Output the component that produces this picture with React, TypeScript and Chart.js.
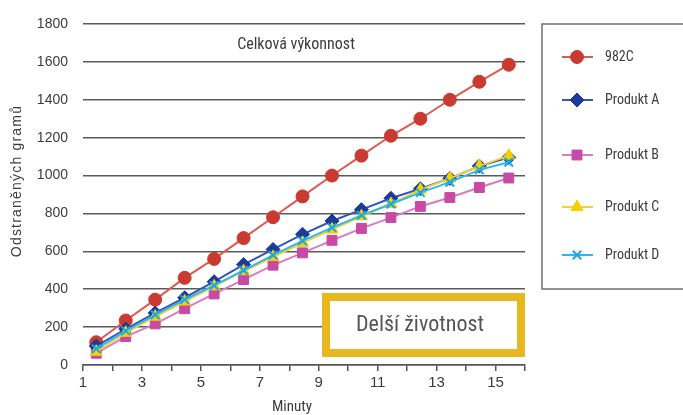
import React, { useEffect, useRef } from "react";
import { Chart, registerables } from "chart.js";
import { drawPoint } from "chart.js/helpers";
Chart.register(...registerables);

const minutes = [1.45, 2.45, 3.45, 4.45, 5.45, 6.45, 7.45, 8.45, 9.45, 10.45, 11.45, 12.45, 13.45, 14.45, 15.45];
const s982C = [120, 235, 345, 460, 560, 670, 780, 890, 1000, 1105, 1210, 1300, 1400, 1495, 1585];
const produktA = [100, 190, 275, 355, 440, 530, 610, 690, 760, 820, 880, 930, 985, 1050, 1095];
const produktB = [62, 150, 217, 297, 375, 451, 527, 592, 658, 721, 778, 837, 884, 937, 987];
const produktC = [70, 170, 255, 335, 415, 495, 570, 645, 715, 785, 850, 925, 985, 1050, 1105];
const produktD = [85, 180, 265, 345, 420, 500, 580, 655, 725, 790, 850, 910, 965, 1030, 1070];

const seriesNames = ["982C", "Produkt A", "Produkt B", "Produkt C", "Produkt D"];
const yTitle = "Odstraněných gramů";
const xTitle = "Minuty";
const chartTitle = "Celková výkonnost";
const boxLabel = "Delší životnost";

const NARROW = "'Liberation Sans Narrow', 'Roboto Condensed', 'Liberation Sans', sans-serif";
const SANS = "'Liberation Sans', Arial, sans-serif";
const TEXT = "#3c3c3c";

const styles = [
  { line: "#dc5a50", fill: "#c93a30", point: "circle", r: 6.5, order: 4 },
  { line: "#3556b8", fill: "#1c3a9c", point: "rectRot", r: 7, order: 2 },
  { line: "#d87cc0", fill: "#c84aa4", point: "rect", r: 7, order: 3 },
  { line: "#f2d23a", fill: "#f6d000", point: "triangle", r: 7, order: 1 },
  { line: "#2cb8ee", fill: "#18a8e8", point: "crossRot", r: 6, order: 0 },
];
const seriesData = [s982C, produktA, produktB, produktC, produktD];
const legendY = [57, 100, 155, 207, 255];

const overlay = {
  id: "overlay",
  afterDraw(chart: any) {
    const ctx = chart.ctx as CanvasRenderingContext2D;
    ctx.save();
    // chart title
    ctx.fillStyle = TEXT;
    ctx.font = `16px ${NARROW}`;
    ctx.textAlign = "center";
    ctx.textBaseline = "middle";
    ctx.fillText(chartTitle, 296, 45);

    // yellow box
    ctx.fillStyle = "#ffffff";
    ctx.fillRect(322, 293, 203, 64);
    ctx.strokeStyle = "#e8b820";
    ctx.lineWidth = 8;
    ctx.strokeRect(326, 297, 195, 56);
    ctx.fillStyle = "#555555";
    ctx.font = `22px ${NARROW}`;
    ctx.fillText(boxLabel, 420, 325);

    // y title
    ctx.save();
    ctx.translate(17.5, 181);
    ctx.rotate(-Math.PI / 2);
    ctx.font = `14px ${SANS}`;
    (ctx as any).letterSpacing = "1.2px";
    ctx.fillStyle = TEXT;
    ctx.textAlign = "center";
    ctx.textBaseline = "middle";
    ctx.fillText(yTitle, 0, 0);
    ctx.restore();

    // x title
    ctx.font = `15px ${NARROW}`;
    ctx.fillStyle = TEXT;
    ctx.textAlign = "center";
    ctx.textBaseline = "alphabetic";
    ctx.fillText(xTitle, 292, 411);

    // legend
    ctx.strokeStyle = "#707070";
    ctx.lineWidth = 1.5;
    ctx.strokeRect(542, 24, 160, 265);
    chart.data.datasets.forEach((ds: any, i: number) => {
      const y = legendY[i];
      ctx.strokeStyle = styles[i].line;
      ctx.lineWidth = 2;
      ctx.beginPath();
      ctx.moveTo(562, y);
      ctx.lineTo(593, y);
      ctx.stroke();
      ctx.fillStyle = styles[i].fill;
      ctx.strokeStyle = styles[i].fill;
      ctx.lineWidth = styles[i].point === "crossRot" ? 2 : 1;
      drawPoint(
        ctx,
        {
          pointStyle: styles[i].point,
          radius: styles[i].r,
          rotation: 0,
          borderWidth: styles[i].point === "crossRot" ? 2 : 1,
        } as any,
        577,
        y
      );
      ctx.fillStyle = TEXT;
      ctx.font = `14px ${NARROW}`;
      ctx.textAlign = "left";
      ctx.textBaseline = "middle";
      ctx.fillText(ds.label, 605, y);
    });
    ctx.restore();
  },
};

export default function App() {
  const ref = useRef<HTMLCanvasElement>(null);
  useEffect(() => {
    document.body.style.margin = "0";
    const canvas = ref.current!;
    const chart = new Chart(canvas, {
      type: "line",
      data: {
        datasets: seriesNames.map((name, i) => ({
          label: name,
          data: minutes.map((m, j) => ({ x: m, y: seriesData[i][j] })),
          borderColor: styles[i].line,
          backgroundColor: styles[i].fill,
          pointBackgroundColor: styles[i].fill,
          pointBorderColor: styles[i].fill,
          pointBorderWidth: styles[i].point === "crossRot" ? 2 : 1,
          pointStyle: styles[i].point as any,
          pointRadius: styles[i].r,
          borderWidth: 2,
          tension: 0,
          order: styles[i].order,
        })),
      },
      options: {
        animation: false,
        responsive: false,
        layout: { padding: { left: 0, right: 158, top: 24, bottom: 0 } },
        plugins: { legend: { display: false }, tooltip: { enabled: false } },
        scales: {
          x: {
            type: "linear",
            min: 1,
            max: 16,
            afterFit: (s: any) => {
              s.height = 50;
            },
            ticks: {
              stepSize: 1,
              autoSkip: false,
              maxRotation: 0,
              padding: 3,
              color: TEXT,
              font: { family: SANS, size: 15 },
              callback: (v: any) => (Number(v) % 2 === 1 ? String(v) : ""),
            },
            grid: { drawOnChartArea: false, drawTicks: true, tickLength: 6, color: "#555", lineWidth: 1.5 },
            border: { display: true, color: "#555", width: 1.5 },
          },
          y: {
            min: 0,
            max: 1800,
            afterFit: (s: any) => {
              s.width = 83;
            },
            ticks: {
              stepSize: 200,
              padding: 15,
              color: TEXT,
              font: { family: SANS, size: 14 },
              callback: (v: any) => String(v),
            },
            grid: { drawTicks: false, color: "#5a5a5a", lineWidth: 1.5 },
            border: { display: false },
          },
        },
      },
      plugins: [overlay],
    });
    return () => chart.destroy();
  }, []);
  return (
    <div style={{ width: 683, height: 415 }}>
      <canvas ref={ref} width={683} height={415} />
    </div>
  );
}
